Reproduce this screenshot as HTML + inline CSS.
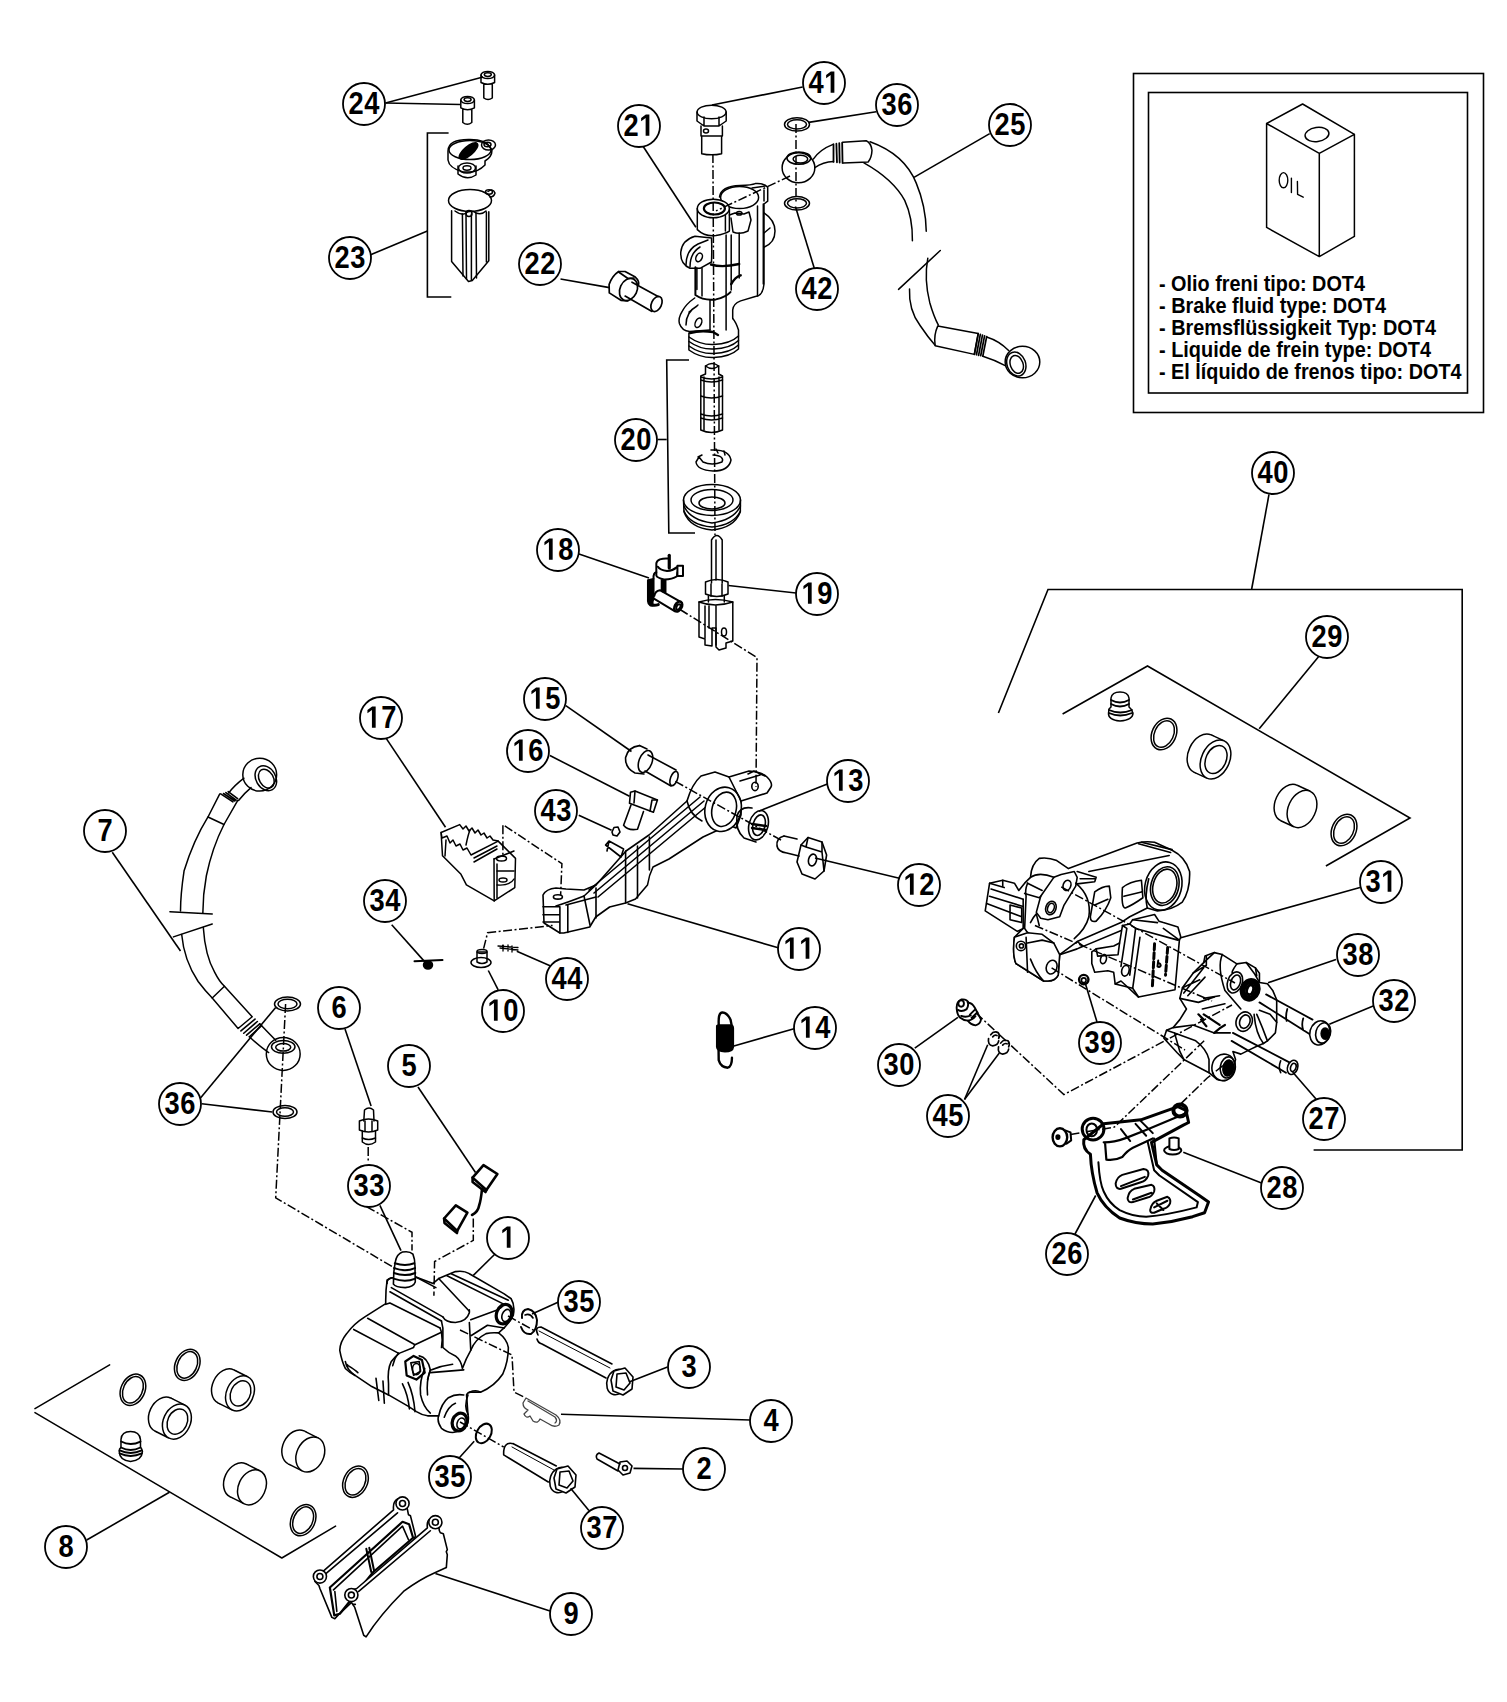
<!DOCTYPE html>
<html><head><meta charset="utf-8"><style>
html,body{margin:0;padding:0;background:#fff;}
body{width:1507px;height:1702px;overflow:hidden;}
svg{display:block;}
.c{fill:#fff;stroke:#000;stroke-width:1.8;}
.t{font-family:"Liberation Sans",sans-serif;font-weight:bold;font-size:31px;text-anchor:middle;fill:#000;}
.l{fill:none;stroke:#000;stroke-width:1.6;}
.p{fill:none;stroke:#000;stroke-width:1.5;stroke-linejoin:round;stroke-linecap:round;}
.pf{fill:#fff;stroke:#000;stroke-width:1.5;stroke-linejoin:round;}
.d{fill:none;stroke:#000;stroke-width:1.5;stroke-dasharray:9 2.5 2 2.5;}
.z path,.z ellipse,.z circle,.z polyline,.z line{vector-effect:non-scaling-stroke;}
.bx{fill:none;stroke:#000;stroke-width:1.6;}
.it{font-family:"Liberation Sans",sans-serif;font-weight:bold;font-size:21.5px;fill:#000;}
</style></head><body>
<svg width="1507" height="1702" viewBox="0 0 1507 1702">
<g id="box">
<rect x="1133.5" y="73.5" width="350" height="339" class="bx"/>
<rect x="1148.5" y="92.5" width="319" height="300.5" class="bx"/>
<path d="M1302.6,104 L1266.6,123.5 L1266.6,227.4 L1319.3,256.6 L1354.4,236.4 L1354.4,134.3 Z M1266.6,123.5 L1319.3,153.4 L1354.4,134.3 M1319.3,153.4 L1319.3,256.6" class="p"/>
<ellipse cx="1317" cy="134.5" rx="12" ry="7" transform="rotate(-8 1317 134.5)" class="p"/>
<ellipse cx="1283.5" cy="180.2" rx="4.3" ry="7.6" class="p" style="stroke-width:1.4"/><path d="M1291.4,178.1 L1291.4,192.5 M1297.4,181.4 L1297.6,194.4 L1303.2,197.2" class="p" style="stroke-width:1.4"/>
<text x="1159" y="291" class="it" textLength="206" lengthAdjust="spacingAndGlyphs">- Olio freni tipo: DOT4</text>
<text x="1159" y="313" class="it" textLength="227" lengthAdjust="spacingAndGlyphs">- Brake fluid type: DOT4</text>
<text x="1159" y="334.7" class="it" textLength="277" lengthAdjust="spacingAndGlyphs">- Bremsflüssigkeit Typ: DOT4</text>
<text x="1159" y="356.5" class="it" textLength="272" lengthAdjust="spacingAndGlyphs">- Liquide de frein type: DOT4</text>
<text x="1159" y="378.5" class="it" textLength="302.5" lengthAdjust="spacingAndGlyphs">- El líquido de frenos tipo: DOT4</text>
</g>
<!-- ===== TOP LEFT: screws 24 ===== -->
<g class="p">
<path d="M481,75 L481,82.5 Q487.8,86 494.6,82.5 L494.6,75 M483.8,84 L483.8,98 Q488,101 492.3,98 L492.3,84"/>
<ellipse cx="487.8" cy="75" rx="6.8" ry="3.6"/>
<ellipse cx="487.8" cy="74.6" rx="3.5" ry="1.8"/>
<path d="M460.8,100 L460.8,107.8 Q467.6,111.5 474.4,107.8 L474.4,100 M462.8,109 L462.8,122.5 Q467.3,126 471.8,122.5 L471.8,109"/>
<ellipse cx="467.6" cy="100" rx="6.8" ry="3.6"/>
<ellipse cx="467.6" cy="99.6" rx="3.5" ry="1.8"/>
</g>
<!-- reservoir cap -->
<g class="p">
<path d="M448,151 Q448,139 470,139.5 Q486,140 489,146 L492,150 Q492,157 485,161 L485,165 Q478,172 470,172 L463,172 Q449,168 448,160 Z"/>
<ellipse cx="470" cy="150" rx="21" ry="9.5"/>
<ellipse cx="468.5" cy="151" rx="11.5" ry="4.5" transform="rotate(-40 468.5 151)" fill="#000"/>
<ellipse cx="488.5" cy="145" rx="7" ry="5"/>
<ellipse cx="487.5" cy="144.5" rx="3.5" ry="2.3"/>
<path d="M458,166 L458,174 Q467,181 476,175 L476,166"/>
<ellipse cx="467" cy="168" rx="8.5" ry="5"/>
<ellipse cx="467" cy="168" rx="4" ry="2.2"/>
</g>
<!-- reservoir body -->
<g class="p">
<ellipse cx="470" cy="200.5" rx="21.5" ry="11"/>
<path d="M488,191.5 Q493,188 495,193 Q494,197 490,197"/>
<ellipse cx="489" cy="192" rx="3.5" ry="2.2"/>
<path d="M451.6,210.8 L451.6,261.6 L468.5,281.4 L472.3,280.4 L488.8,260.7 L488.8,211.8"/>
<path d="M462.4,214 L463,276 M466,213 L466.5,279 M471.4,214 L471.4,280 M476,213 L476.5,278 M486.4,212 L486.4,262"/>
<path d="M455,211 Q462,216 466,213 Q471,209 476,213 Q482,215 486,211"/>
<circle cx="469" cy="213.5" r="3"/>
</g>
<!-- bolt 22 -->
<g class="p" style="stroke-width:1.7">
<path d="M618.6,271.5 L625.1,271.5 L635.3,277.1 Q639.5,281 638.5,285 M618.6,271.5 Q612,276 609.1,284.5 L609.3,292.9 L620.9,300.3 L627.9,300.8"/>
<path d="M618.6,272 L628,278.5 L634,278"/>
<ellipse cx="628.5" cy="289.5" rx="8.5" ry="11.5" transform="rotate(25 628.5 289.5)"/>
<path d="M632,282.2 L658.1,296.6 M625.1,296.1 L652,311.4"/>
<ellipse cx="656.5" cy="304" rx="5" ry="8" transform="rotate(25 656.5 304)"/>
</g>
<!-- banjo bolt 41 -->
<g class="p">
<ellipse cx="711.6" cy="112" rx="14.5" ry="6.8"/>
<path d="M697,112 L697,121 L704,126 L719,126 L726.2,121 L726.2,112 M704,117 L704,126 M719,117 L719,126"/>
<path d="M701,126 L701,136 L722.4,136 L722.4,126"/>
<path d="M701.7,136.5 L701.7,153.7 Q711.6,156 721.6,153.7 L721.6,136.5"/>
<ellipse cx="706" cy="131" rx="2.5" ry="2"/>
</g>
<!-- washers 36/42 top -->
<g class="p">
<ellipse cx="797" cy="124.4" rx="12.5" ry="6.7"/>
<ellipse cx="797" cy="124.4" rx="9.5" ry="4.6"/>
<ellipse cx="797" cy="203.3" rx="12.5" ry="6.7"/>
<ellipse cx="797" cy="203.3" rx="9.5" ry="4.6"/>
</g>
<!-- master cylinder 21 -->
<g class="p">
<path d="M719.5,197 Q721,186 740,185.5 Q752,185 755.3,183.6 Q764,183 767.7,187.3 L767.7,201.2 L764,204 L764,284 Q763,296 755.3,296.5 L740.7,300.9 Q733,304 732.7,310 L732.7,318.4"/>
<ellipse cx="739.6" cy="197.5" rx="19" ry="11"/>
<path d="M752,188 L765,186 M764,190 L764,201"/>
<path d="M697.3,208.5 L697.3,229.6 Q705,237 715.9,235.5 Q725,234 729.4,231.1 L729.4,208.5"/>
<ellipse cx="713.3" cy="208.5" rx="16" ry="9.3" fill="#fff"/>
<ellipse cx="714.4" cy="208.5" rx="10.5" ry="6" style="stroke-width:2.2"/>
<path d="M725.4,215 L725.4,231 M729.4,215 L735,213 L744,214 L749,212 L751,220 L748,231 Q740,235 733,232 L731,218"/>
<ellipse cx="739.2" cy="213.2" rx="2.8" ry="1.8"/>
<path d="M680.8,252 Q682,240 695,236.2 L711.5,238 Q712,250 711.5,262 L700,268.3 L690,268.3 Q680,264 680.8,252 Z"/>
<path d="M686,265 Q686,250 698,244 L708,240 M690,267 Q690,253 700,247"/>
<ellipse cx="699.1" cy="257.4" rx="3" ry="4.5" transform="rotate(25 699.1 257.4)"/>
<path d="M696.9,268 L696.9,289.5 M702,268 L702,296 M726.1,235 L726.1,330 M731.2,235 L731.2,290 M739.2,233 L739.2,278 M757.5,206 L757.5,296 M763.3,204 L763.3,284"/>
<path d="M711,264.5 Q722,268 739.2,264" style="stroke-width:2.4"/>
<path d="M764,212.8 Q775,220 775,231.1 Q775,243 764,247.2 M764,233 L770,228"/>
<path d="M695.4,267.3 L695.4,295 Q704,301 715.9,299.4 Q726,297 730.5,292.1" style="stroke-width:2"/>
<path d="M731.2,284.1 Q735,277 740.7,275.3" style="stroke-width:2.4"/>
<path d="M694.7,298 Q686,304 682.3,311.1 Q678,318 679.4,323.5 Q682,331 689.6,331.5 L710,330"/>
<path d="M689,312 L698,305 M686,325 Q686,312 697,306"/>
<ellipse cx="698.4" cy="322.8" rx="3" ry="5" transform="rotate(25 698.4 322.8)"/>
<path d="M710,300 L710,330"/>
<path d="M688.9,333 L688.9,350 Q700,358 713.7,357.5 Q730,357 738.5,349 L738.5,330 Q736,322 732.7,318.4"/>
<path d="M689,337 Q700,345 713.7,344.5 Q730,344 738.5,336 M689,341.5 Q700,349.5 713.7,349 Q730,348.5 738.5,340.5 M689,346 Q700,354 713.7,353.5 Q730,353 738.5,345"/>
<path d="M690,333 Q700,330 713,332 L718,335" style="stroke-width:2.4"/>
</g>
<!-- hose 25 -->
<g class="p z" transform="translate(770,110) scale(0.19243)" style="stroke-width:1.5">
<ellipse cx="148" cy="300" rx="85" ry="78"/>
<ellipse cx="150" cy="250" rx="62" ry="32"/>
<ellipse cx="158" cy="255" rx="38" ry="20"/>
<path d="M225,255 Q260,205 325,180 M233,300 Q275,270 330,268"/>
<path d="M330,178 L330,270 M345,175 L348,272 M360,172 L362,273 M375,170 L377,275" style="stroke-width:1.8"/>
<path d="M378,168 L500,160 Q525,170 530,210 Q528,250 510,270 L380,276"/>
<path d="M520,165 Q700,230 760,380 Q810,500 812,630"/>
<path d="M488,275 Q640,360 700,470 Q742,560 740,680"/>
<path d="M668,932 L885,730"/>
<path d="M725,930 Q720,1040 780,1120 Q820,1180 858,1222"/>
<path d="M820,770 Q800,880 830,1000 Q850,1070 875,1118"/>
<path d="M872,1122 Q850,1170 858,1222 M872,1122 L1082,1162 L1062,1270 L858,1225"/>
<path d="M1082,1162 L1062,1270 M1093,1166 L1073,1272 M1104,1170 L1084,1275 M1115,1174 L1095,1277 M1126,1178 L1106,1279" style="stroke-width:1.7"/>
<path d="M1126,1180 Q1190,1200 1240,1250 M1106,1280 Q1170,1300 1225,1330"/>
<ellipse cx="1312" cy="1310" rx="90" ry="82"/>
<ellipse cx="1280" cy="1320" rx="48" ry="64" transform="rotate(-20 1280 1320)"/>
<ellipse cx="1282" cy="1322" rx="33" ry="48" transform="rotate(-20 1282 1322)"/>
</g>
<!-- ===== piston assembly 20 ===== -->
<g class="p">
<path d="M705.5,366 Q712,361 718.7,366 L718.7,374 L722.5,376 L722.5,430 Q711.6,435 700.8,430 L700.8,376 L705.5,374 Z"/>
<path d="M705.5,366 Q712,371 718.7,366 M700.8,377 Q711.6,381 722.5,377 M700.8,380 Q711.6,384 722.5,380 M700.8,396 Q711.6,400 722.5,396 M700.8,414 Q711.6,418 722.5,414 M700.8,418 Q711.6,422 722.5,418 M704,377 L704,430 M719,377 L719,430"/>
<path d="M711,450 Q729,449 731,460 Q729,471 713,471 Q697,470 696,462 L699,457 L703,462 Q712,466 722,462 Q725,456 713,455"/>
<path d="M698,457 L702,455 M716,449 L718,453 M724,451 L725,455"/>
<ellipse cx="712" cy="500" rx="28.5" ry="15.5"/>
<ellipse cx="712" cy="500" rx="21" ry="10.5"/>
<ellipse cx="712" cy="503" rx="13" ry="6"/>
<path d="M683.5,500 L684,512 Q690,528 712,530 Q734,528 740.3,512 L740.5,500"/>
<path d="M684,506 Q690,520 712,523 Q734,520 740.4,506 M684,511 Q690,525 712,527 Q734,525 740.4,511"/>
</g>
<!-- push rod 19 -->
<g class="p">
<path d="M711.5,583 L711.5,540 Q716.8,531 722.2,540 L722.2,583"/>
<path d="M716,540 L716,580"/>
<path d="M705.5,582 Q716.8,577 728,582 L728,594 Q716.8,599 705.5,594 Z"/>
<path d="M711,584 L711,596 M722,584 L722,596"/>
<path d="M708.4,596 L708.4,602 M724.3,596 L724.3,602"/>
<path d="M699,602 Q715,597 732.8,602 L732.8,641 L726,643 L726,648 L719,650 L716,647 L716,628 L712,628 L712,646 L705,645 L705,639 L699,637 Z"/>
<path d="M699,602 Q715,608 732.8,602 M716,606 L716,645 M705,606 L705,638 M709,606 L709,628"/>
<ellipse cx="724" cy="632" rx="2.5" ry="4"/>
</g>
<!-- clip 18 -->
<g class="p z" transform="translate(640,550) scale(0.03981)" style="stroke-width:2">
<path d="M705,215 Q600,205 500,235 Q410,280 410,340 L410,640 Q430,700 600,740 Q800,745 930,660 L940,560"/>
<path d="M450,420 Q500,500 680,530 Q820,520 930,430"/>
<path d="M940,395 L1080,395 L1080,650 L940,650 Z" fill="#fff"/>
<path d="M735,135 L735,450" style="stroke-width:3.2"/>
<path d="M200,760 L340,730 L340,1220 Q300,1300 320,1390 L260,1390 Q200,1350 200,1290 Z" fill="#000"/>
<path d="M340,720 Q330,580 410,560"/>
<path d="M545,760 L640,760 L640,1060 L545,1030 Z" fill="#000"/>
<path d="M360,1150 Q380,1030 500,1010 L1000,1290 M360,1230 L880,1540"/>
<path d="M280,1380 Q380,1400 460,1370" style="stroke-width:3"/>
<ellipse cx="960" cy="1420" rx="85" ry="135" transform="rotate(30 960 1420)" fill="#fff" style="stroke-width:2.6"/>
<ellipse cx="965" cy="1430" rx="45" ry="75" transform="rotate(30 965 1430)"/>
</g>
<!-- ===== lever 11 ===== -->
<g class="p" style="stroke-width:1.6">
<path d="M543,895 Q546,889 556,888 L566,889 L584,890 L596,885 L626,851 L649,835 L687,801 Q692,784 701,776 L715,772 L729,777 L749,771 Q762,772 767,777 Q773,783 771,787 L767,793 L741,801 L741,815 L736,828 L729,825 L703,837 L669,859 L653,867 Q649,875 647.5,885 L635.5,899 L625.6,903 L609.6,907 L595.7,917 L589.7,927 L563.8,933 L559.9,933 L544,923 Z" fill="#fff"/>
<path d="M559.9,906.8 L559.9,933 M567.8,905 L567.8,932.5 M543,906.8 L559.9,906.8 M543,914.8 L559.9,914.8 M543,922 L559.9,922"/>
<path d="M556,906 Q566,903 584,896 L596,885 M566,905 L596,897"/>
<path d="M584,896 L590,925 M596,888 L596,918 M625.6,851 L625.6,903 M637.5,846 L637.5,898 M649.4,837 L649.4,870"/>
<path d="M589,890 L700,797 M594,893 L704,801 M598,897 L707,806"/>
<path d="M687,801 Q690,815 702,821"/>
<ellipse cx="723.1" cy="809.3" rx="18" ry="22.4" transform="rotate(15 723.1 809.3)" fill="#fff"/>
<ellipse cx="724.1" cy="809.3" rx="12" ry="17.5" transform="rotate(15 724.1 809.3)"/>
<path d="M729,777 L741,801 M748,774 L754,771 L765,776 M740,781 L760,775" />
<ellipse cx="755" cy="786.4" rx="3.2" ry="4.2"/>
<ellipse cx="557.9" cy="896.9" rx="4.5" ry="2.2"/>
</g>
<!-- bolt 15 -->
<g class="p" style="stroke-width:1.6">
<path d="M639.5,745.6 Q628,747 625.6,757.5 Q625,768 635,773 L644,774"/>
<path d="M639.5,745.6 L647,749"/>
<ellipse cx="645.5" cy="761.5" rx="6.5" ry="11.5" transform="rotate(20 645.5 761.5)" fill="#fff"/>
<path d="M648,755 L676,770 M645,771 L671,786"/>
<ellipse cx="674" cy="778.5" rx="3.5" ry="7.5" transform="rotate(20 674 778.5)"/>
</g>
<!-- bolt 16 / pin 43 -->
<g class="p" style="stroke-width:1.6">
<path d="M630.5,792.3 L635,791 L657.4,800 L653.4,812.2 L629.5,803.3 Z"/>
<path d="M635,791 L634,803 M652,800 L650,811 M657.4,800 L652,800"/>
<path d="M631,805 L623.6,825.2 Q628,831 637.5,829.2 L643.5,811.5"/>
<path d="M612,832 L614,827.5 L618,827 L620,832 L617,836 L613,835 Z"/>
<path d="M605.6,845 L609,841 L623.6,849 L621,857 Z M609,841 L607,851"/>
</g>
<!-- bushing 13 -->
<g class="p" style="stroke-width:1.6">
<path d="M752,808 Q740,806 737,816 Q735,830 744,838 L756,842"/>
<ellipse cx="758.5" cy="825.2" rx="9.5" ry="15" transform="rotate(15 758.5 825.2)" fill="#fff"/>
<ellipse cx="759" cy="825.2" rx="6" ry="10.5" transform="rotate(15 759 825.2)"/>
<path d="M752,824 L766,826 M752,828 L766,830" style="stroke-width:2.4"/>
</g>
<!-- nut 12 -->
<g class="p" style="stroke-width:1.6">
<path d="M784,836 Q776,838 777,846 Q778,852 786.8,853 L799,856"/>
<path d="M784,836 L797,839"/>
<path d="M801,845 L808,837.5 L822,842 L826.6,855 L824,871 L815,879 L802,874 L797,862 Z"/>
<path d="M808,837.5 L806,847 L801,845 M806,847 L822,852 L822,842 M822,852 L824,871"/>
<ellipse cx="812.5" cy="860" rx="4" ry="6" transform="rotate(15 812.5 860)"/>
</g>
<!-- spring 14 -->
<g class="p z" transform="translate(700,1000) scale(0.047)" style="stroke-width:2.4">
<path d="M400,540 Q380,260 480,265 Q580,270 650,420 L675,545"/>
<path d="M365,560 Q360,540 420,540 L660,540 Q700,545 700,600 L700,1000 Q690,1090 530,1090 Q370,1090 365,1000 Z" fill="#000"/>
<path d="M395,1060 L398,1280 Q440,1430 590,1440 Q680,1420 680,1230"/>
</g>
<!-- pedal tip 17 -->
<g class="p">
<path d="M441.1,832.5 L459.7,824.6 L463,829 L466,826 L469,831 L472,828 L475,833 L478,830 L481,835 L484,833 L487,838 L490,836 L493,840 L498.2,841.1 L515.5,858.4 L514.8,887.6 L494.2,900.9 L466.4,884.9 L461,874.3 L442.5,855.7 Z"/>
<path d="M441.1,832.5 L442,838 L447,836 L450,843 L453,840 L456,846 L460,844 L463,850 L467,848 L471,855 L498.2,841.1"/>
<path d="M446,840 L445,856 M466,845 Q468,835 470,830 M494,859 L514,851 M474,858 L497,846 M474,862 L497,849"/>
<path d="M494,859 L494.2,900.9 M497,864 L497,898"/>
<path d="M497,871 L514,871 M497,885 Q510,886 514,879"/>
<ellipse cx="501.5" cy="858.5" rx="5" ry="2.5"/>
<ellipse cx="503" cy="880" rx="4" ry="2"/>
</g>
<!-- small parts 34, 10, 44, spring 14 -->
<g class="p">
<path d="M414.5,961.2 L442.5,960" style="stroke-width:2"/>
<ellipse cx="428" cy="965" rx="4.5" ry="4" fill="#000"/>
<ellipse cx="481" cy="962.5" rx="10" ry="5"/>
<path d="M477,952 L477,962 Q482,965 487,962 L487,952 Z"/>
<ellipse cx="482" cy="951.5" rx="5" ry="2"/>
<path d="M498,946 L518,947.5 M500,948 L518,950 M503,945 L503,951 M508,945 L508,951 M512,946 L512,952" style="stroke-width:1.3"/>

</g>
<!-- ===== hose 7 ===== -->
<g class="p z" transform="translate(90,730) scale(0.23507)" style="stroke-width:1.5">
<ellipse cx="722" cy="190" rx="72" ry="70"/>
<ellipse cx="748" cy="205" rx="42" ry="56" transform="rotate(-30 748 205)"/>
<ellipse cx="750" cy="207" rx="30" ry="43" transform="rotate(-30 750 207)"/>
<path d="M655,205 Q615,235 590,268 M685,245 Q655,270 632,300"/>
<path d="M588,262 L628,292 M578,266 L622,298 M568,270 L616,302 M556,272 L608,306" style="stroke-width:1.6"/>
<path d="M552,272 L502,370 L570,402 L628,300"/>
<path d="M502,370 Q440,470 400,600 Q385,700 385,770"/>
<path d="M570,402 Q520,500 495,620 Q480,700 480,780"/>
<path d="M340,773 L520,783 M355,880 L520,825"/>
<path d="M390,870 Q400,980 460,1070 Q490,1110 520,1140"/>
<path d="M482,840 Q490,960 530,1030 Q550,1070 572,1090"/>
<path d="M520,1140 L572,1090 L690,1220 L630,1270 Z"/>
<path d="M642,1280 L702,1230 M654,1290 L712,1240 M666,1298 L722,1250 M678,1305 L730,1258" style="stroke-width:1.6"/>
<path d="M722,1250 Q760,1290 790,1320 M678,1305 Q720,1345 760,1372"/>
<ellipse cx="822" cy="1378" rx="72" ry="70"/>
<ellipse cx="822" cy="1348" rx="50" ry="27"/>
<ellipse cx="822" cy="1350" rx="32" ry="16"/>
</g>
<!-- washers 36 left -->
<g class="p">
<ellipse cx="287.5" cy="1004" rx="13" ry="7"/>
<ellipse cx="287.5" cy="1004" rx="9.5" ry="4.8"/>
<ellipse cx="285" cy="1112" rx="12" ry="6.5"/>
<ellipse cx="285" cy="1112" rx="8.5" ry="4.3"/>
</g>
<!-- bleed valve 6 -->
<g class="p">
<path d="M363.8,1121 L364.5,1110 Q369,1106 373.5,1110 L374,1121"/>
<path d="M359.4,1121 Q368.5,1117 377.7,1121 L377.7,1130 Q368.5,1134 359.4,1130 Z"/>
<path d="M365,1121 L365,1131 M372,1121 L372,1131"/>
<path d="M362.3,1131 L362.3,1142 Q368.5,1147 375.5,1142 L375.5,1131"/>
<path d="M362.3,1138 Q368.5,1141 375.5,1138"/>
</g>
<!-- sensor 5 -->
<g class="p" style="stroke-width:2.6">
<path d="M472.6,1177.6 L483.5,1165.2 L497.4,1174 L486.4,1190 Z"/>
<path d="M472.6,1177.6 L472.6,1182 L485.5,1192 L486.4,1190"/>
<path d="M482,1189 Q481,1200 479,1206 Q478,1212 472,1215"/>
<path d="M444.1,1218.5 L455.8,1205.3 L467.4,1212.6 L457.2,1230.9 Z"/>
<path d="M444.1,1218.5 L444.5,1223 L457,1233 L457.2,1230.9"/>
</g>
<!-- ===== caliper 1 ===== -->
<g class="p z" transform="translate(330,1250) scale(0.13935)" style="stroke-width:1.6">
<path fill="#fff" d="M410,215 Q398,300 400,385 L250,480 Q170,530 120,600 Q72,660 70,720 Q85,800 110,850 Q140,880 180,900 L300,980 L420,1040 L560,1120 L620,1160 Q660,1185 700,1190 L780,1190 Q765,1230 800,1280 Q840,1310 880,1310 Q940,1305 980,1260 Q1000,1230 990,1180 L980,1040 Q990,1020 1010,1020 L1080,1020 Q1180,980 1240,890 Q1280,800 1280,700 Q1270,640 1210,595 Q1280,540 1315,470 Q1330,400 1300,350 L1250,315 L1000,170 Q960,145 900,155 L780,205 L740,240 L620,195 Q600,190 560,200 L440,200 Z"/>
<path fill="#fff" d="M455,245 L458,160 Q462,120 470,80 Q480,30 520,15 Q570,5 595,30 Q612,70 610,130 L612,230 Q600,265 540,270 Q470,268 455,245 Z"/>
<path d="M465,95 Q540,120 605,95 M460,130 Q540,160 610,130 M458,165 Q540,195 612,165 M456,205 Q540,235 612,205" style="stroke-width:2"/>
<path d="M440,200 Q405,210 410,240 M440,270 L810,480 M430,300 L800,510 M430,380 L790,560 M400,390 L430,380"/>
<path d="M620,195 L760,270 M780,205 L1000,440 M840,185 L1250,390 M870,170 L1280,360 M1250,390 Q1230,420 1200,430 L1010,500"/>
<path d="M810,480 Q830,520 900,520 Q980,515 1000,450 L1000,430 M800,510 L810,560 L810,700 Q850,740 900,760 Q940,790 950,850 Q975,780 1010,720 L1000,520"/>
<path d="M1010,720 Q1040,640 1120,600 Q1160,590 1210,595 M1020,610 L1130,540 L1250,560"/>
<path d="M270,490 L610,680 M170,570 L490,740 M790,560 L800,590 L610,680 Q600,690 600,700 L500,740 Q470,760 440,800 Q410,860 420,960 L420,1040"/>
<path d="M800,590 Q810,650 800,700 M490,740 Q460,780 450,830"/>
<path d="M110,800 Q120,860 180,900 M120,820 L130,830 Q180,860 200,880 M330,920 Q340,1000 350,1080 M380,940 L390,1100 M520,960 Q560,1040 570,1140 M560,950 Q600,1040 610,1160"/>
<path d="M680,850 Q640,940 650,1040 Q670,1130 720,1170 M720,860 Q690,940 700,1040"/>
<path d="M720,880 L960,860 M730,860 Q800,830 880,820"/>
<path d="M540,800 L600,760 L660,790 L680,880 L620,930 L550,900 Z" style="stroke-width:2.2"/>
<path d="M580,810 L640,800 L650,870 L600,900 Z"/>
<ellipse cx="620" cy="855" rx="28" ry="40"/>
<path d="M640,760 Q700,770 720,860 L700,930"/>
<path d="M990,1180 Q960,1120 990,1040 M1000,1020 Q1050,1000 1080,1020"/>
<ellipse cx="1250" cy="460" rx="55" ry="72" transform="rotate(20 1250 460)" style="stroke-width:3.2"/>
<ellipse cx="1265" cy="470" rx="30" ry="45" transform="rotate(20 1265 470)" style="stroke-width:1.6"/>
<ellipse cx="930" cy="1235" rx="52" ry="65" transform="rotate(20 930 1235)" style="stroke-width:3.2"/>
<ellipse cx="940" cy="1245" rx="28" ry="40" transform="rotate(20 940 1245)" style="stroke-width:1.6"/>
<path d="M780,1190 Q800,1100 850,1060 Q900,1030 960,1040 M820,1200 Q850,1120 900,1100"/>
</g>
<!-- washers 35, pins 3 / 37, bolt 2, clip 4 -->
<g class="p" style="stroke-width:1.6">
<path d="M522,1318 Q521,1310 528,1309 Q536,1311 537,1320 Q537,1330 531,1334 Q524,1335 521,1327" style="stroke-width:2"/>
<path d="M525,1315 Q530,1313 533,1318"/>
<path d="M538,1335 Q534,1327 541,1327 L612,1364 M537,1339 Q538,1343 542,1344 L606,1378"/>
<path d="M539,1331 L610,1368" style="stroke-width:1"/>
<ellipse cx="617" cy="1382" rx="10" ry="13" transform="rotate(20 617 1382)" fill="#fff"/>
<path d="M614,1371 L625,1368 L633,1377 L632,1389 L623,1395 L613,1391 L611,1380 Z" fill="#fff"/>
<path d="M617,1374 L626,1373 L630,1383 L624,1390 L616,1387 Z"/>
<ellipse cx="483.8" cy="1433.4" rx="7" ry="10.5" transform="rotate(30 483.8 1433.4)" style="stroke-width:2"/>
<path d="M513.3,1443.7 L556.3,1466 M503.7,1454.9 L548.3,1482 M513.3,1443.7 Q503,1441 503.7,1454.9"/>
<path d="M512,1447 L554,1470" style="stroke-width:1"/>
<ellipse cx="560" cy="1480" rx="10" ry="13" transform="rotate(20 560 1480)" fill="#fff"/>
<path d="M557,1469 L568,1466 L576,1475 L575,1487 L566,1493 L556,1489 L554,1478 Z" fill="#fff"/>
<path d="M560,1472 L569,1471 L573,1481 L567,1488 L559,1485 Z"/>
<path d="M599,1453 L620,1464 M597,1459 L618,1471 M599,1453 Q595,1455 597,1459"/>
<path d="M620,1462 L627,1461 L632,1466 L630,1473 L623,1475 L618,1470 Z"/>
<circle cx="625" cy="1468" r="2.5"/>
</g>
<g class="p" style="stroke-width:1.3;stroke:#444">
<path d="M526,1398 L556,1415 Q562,1420 559,1425 Q554,1428 549,1424 L540,1419 Q538,1424 533,1421 L530,1416 Q526,1419 524,1414 L528,1410 Q523,1408 523,1403 Z"/>
<path d="M528,1401 L555,1417 Q558,1421 555,1423"/>
</g>
<!-- ===== piston kit 8 ===== -->
<g class="p z" transform="translate(30,1340) scale(0.19907)" style="stroke-width:1.5">
<path d="M400,125 L25,345 M25,365 L1265,1095 L1535,935"/>
<ellipse cx="517" cy="250" rx="60" ry="82" transform="rotate(25 517 250)"/>
<ellipse cx="517" cy="250" rx="48" ry="70" transform="rotate(25 517 250)"/>
<ellipse cx="790" cy="125" rx="60" ry="82" transform="rotate(25 790 125)"/>
<ellipse cx="790" cy="125" rx="48" ry="70" transform="rotate(25 790 125)"/>
<ellipse cx="1372" cy="905" rx="60" ry="82" transform="rotate(25 1372 905)"/>
<ellipse cx="1372" cy="905" rx="48" ry="70" transform="rotate(25 1372 905)"/>
<ellipse cx="1635" cy="712" rx="60" ry="82" transform="rotate(25 1635 712)"/>
<ellipse cx="1635" cy="712" rx="48" ry="70" transform="rotate(25 1635 712)"/>
<path d="M448,560 Q450,605 505,610 Q562,605 565,560 L560,545 L555,540 L555,500 Q550,460 505,460 Q460,460 457,500 L457,540 L450,548 Z" fill="#fff"/>
<path d="M458,510 Q505,535 555,510 M457,540 Q505,565 555,540 M450,555 Q505,580 562,555 M450,570 Q505,595 562,570" style="stroke-width:1.9"/>
</g>
<!-- ===== pads 9 ===== -->
<g class="p z" transform="translate(300,1480) scale(0.19907)" style="stroke-width:1.6">
<path fill="#fff" d="M470,150 L120,455 Q70,470 75,510 L95,530 L100,545 L160,690 L175,697 L190,680 L560,330 L580,280 L555,180 L545,175 L540,150 Q530,90 490,95 Q465,110 470,150 Z"/>
<path d="M490,165 L130,470"/>
<path d="M150,540 L515,210 L548,222 L568,290 L368,462 L200,672 L172,680 Z" style="stroke-width:2.2"/>
<path d="M168,552 L515,232 L545,300 M185,660 L175,560"/>
<path d="M333,345 L358,462 M348,340 L372,455" style="stroke-width:2"/>
<circle cx="515" cy="118" r="33" fill="#fff"/>
<circle cx="515" cy="118" r="15"/>
<circle cx="100" cy="485" r="33" fill="#fff"/>
<circle cx="100" cy="485" r="15"/>
<path fill="#fff" d="M640,240 L285,545 Q235,555 232,595 L255,610 L265,625 L275,640 L320,780 L332,788 Q400,680 520,560 Q600,500 680,465 L735,440 L740,375 L735,360 L740,350 L720,270 L705,265 L700,255 Q695,190 655,195 Q635,205 640,240 Z"/>
<path d="M655,255 L295,560 M265,625 L278,625"/>
<circle cx="680" cy="212" r="33" fill="#fff"/>
<circle cx="680" cy="212" r="15"/>
<circle cx="258" cy="578" r="33" fill="#fff"/>
<circle cx="258" cy="578" r="15"/>
</g>
<!-- ===== kit 29 ===== -->
<g class="p">
<path d="M1108.5,713 Q1108,720 1120,721 Q1133,720 1133,713 L1131,709 L1129,707 L1129,698 Q1128,692 1120,692 Q1112,692 1111,698 L1111,707 L1109,709 Z"/>
<path d="M1111,700 Q1120,705 1129,700 M1111,704 Q1120,709 1129,704 M1109,710 Q1120,715 1132,710 M1109,713 Q1120,718 1132,713" style="stroke-width:1.8"/>
<ellipse cx="1164" cy="734" rx="12" ry="16.5" transform="rotate(25 1164 734)"/>
<ellipse cx="1164" cy="734" rx="9.5" ry="14" transform="rotate(25 1164 734)"/>
<ellipse cx="1344" cy="830" rx="12" ry="16.5" transform="rotate(25 1344 830)"/>
<ellipse cx="1344" cy="830" rx="9.5" ry="14" transform="rotate(25 1344 830)"/>
</g>
<!-- ===== rear caliper 40 ===== -->
<g class="p z" transform="translate(975,835) scale(0.14599)" style="stroke-width:1.6">
<path fill="#fff" d="M640,230 L1110,55 Q1170,40 1230,50 L1350,105 Q1440,150 1470,250 Q1475,380 1420,460 Q1350,515 1250,520 L1180,500 L1060,560 L1000,600 L700,730 L580,820 L570,960 Q550,1000 500,1000 L470,1000 L280,880 Q255,820 270,700 L330,640 L290,660 L70,520 L100,330 L190,310 L270,330 L300,380 L340,330 L380,290 Q385,200 440,160 Q500,150 560,175 Z"/>
<path d="M1120,60 L1340,120 M1140,50 L1350,100 M780,250 L1330,140 M1180,500 Q1160,420 1190,300"/>
<ellipse cx="1290" cy="350" rx="125" ry="168" transform="rotate(15 1290 350)"/>
<ellipse cx="1300" cy="350" rx="95" ry="135" transform="rotate(15 1300 350)"/>
<ellipse cx="1300" cy="350" rx="80" ry="118" transform="rotate(15 1300 350)"/>
<path d="M1010,360 Q1060,320 1140,310 L1150,430 Q1080,480 1030,500 Q1000,500 1010,360 Z M1020,420 L1140,390"/>
<path d="M820,390 Q870,350 920,350 L930,430 Q900,520 830,590 Q790,600 790,560 Z M820,480 L910,440"/>
<path fill="#fff" d="M540,290 L590,270 L680,250 L700,290 L690,350 L610,480 L580,560 L500,580 L450,570 L420,530 L450,420 Z"/>
<ellipse cx="630" cy="345" rx="26" ry="36" transform="rotate(20 630 345)"/>
<ellipse cx="520" cy="500" rx="35" ry="47" transform="rotate(20 520 500)"/>
<ellipse cx="520" cy="500" rx="22" ry="33" transform="rotate(20 520 500)"/>
<path d="M700,250 L830,290 L820,320 L700,335 M720,300 L825,300"/>
<path d="M690,330 Q800,420 780,560 Q760,640 680,710"/>
<path d="M380,290 Q440,250 540,290 M360,330 L460,380 M340,400 L440,430 L450,420"/>
<path d="M110,370 L330,440 M100,420 L330,490 M80,470 L320,560 M240,480 L320,500 L320,600 L240,580 Z M190,310 L190,350 M100,330 L200,360"/>
<path d="M330,440 L330,640 M360,330 Q340,380 350,420 L340,640 Q360,680 420,700"/>
<path d="M380,600 Q400,560 420,540 L440,620" />
<path fill="#fff" d="M270,700 L360,670 L460,680 L540,740 L580,820 L570,960 Q550,1000 500,1000 L470,1000 L280,880 Q255,820 270,700 Z"/>
<circle cx="315" cy="760" r="32"/>
<circle cx="318" cy="760" r="14"/>
<path d="M350,700 L360,940 M360,740 L460,720 L540,740 M380,850 Q420,950 470,1000"/>
<ellipse cx="525" cy="905" rx="36" ry="48" transform="rotate(20 525 905)"/>
<path d="M580,820 L700,780 L1010,650 M700,730 L740,760 L700,780"/>
<path fill="#fff" d="M800,800 L830,780 L950,760 L990,740 L1010,620 L1060,610 L1080,580 L1230,545 L1260,590 L1290,600 L1390,630 L1410,700 L1400,720 L1370,1060 L1120,1110 L1080,1050 L960,1020 L950,940 L910,930 L820,940 L800,880 Z"/>
<path d="M1010,620 L1040,640 L1000,900 M1060,610 L1100,640 L1060,960 M1080,580 L1250,600 M1100,640 L1390,720 M1130,700 L1080,1050 M1400,720 L1290,640"/>
<path d="M830,780 L840,830 L980,820 L990,740 M960,1020 L1000,1000 L1120,1110"/>
<ellipse cx="880" cy="850" rx="20" ry="32" transform="rotate(15 880 850)"/>
<ellipse cx="1030" cy="930" rx="25" ry="37" transform="rotate(15 1030 930)"/>
<path d="M1230,745 L1215,1040 M1320,770 L1305,960" style="stroke-width:3;stroke-dasharray:6 3"/>
<path d="M1255,860 L1250,900 Q1262,910 1272,895 Q1270,875 1255,880" style="stroke-width:2"/>
<circle cx="745" cy="990" r="32" style="stroke-width:2.4"/>
<circle cx="745" cy="995" r="16"/>
</g>
<!-- right half -->
<g class="p z" transform="translate(1140,940) scale(0.13271)" style="stroke-width:1.6">
<path fill="#fff" d="M300,440 L320,360 L400,250 L480,170 L490,120 L560,95 L620,110 L730,180 L800,170 L870,210 L900,250 L900,320 L960,330 L1000,380 L1030,450 L1030,620 L1020,700 L960,760 L930,780 L880,800 L820,830 L760,860 L700,840 L720,900 L700,990 L640,1060 L580,1050 L520,1000 L330,900 L280,850 L180,740 L200,680 L250,660 L300,600 L350,520 Z"/>
<path d="M400,250 L500,190 L500,120 M480,170 L560,95 M330,400 L480,210 M360,420 L490,280 M300,440 L440,470 L560,430 M320,360 L450,300"/>
<path d="M480,440 L600,420 M470,520 L640,480"/>
<ellipse cx="715" cy="320" rx="55" ry="82" transform="rotate(20 715 320)"/>
<ellipse cx="720" cy="320" rx="35" ry="58" transform="rotate(20 720 320)"/>
<path d="M620,110 Q580,200 640,380 L760,520 M730,180 Q680,250 700,250"/>
<ellipse cx="830" cy="375" rx="55" ry="68" transform="rotate(20 830 375)" style="stroke-width:6"/>
<ellipse cx="830" cy="375" rx="25" ry="38" transform="rotate(20 830 375)" style="stroke-width:3"/>
<path d="M800,170 L860,250 L900,320 M870,210 L880,270"/>
<path d="M950,410 L1300,600 M900,470 L1280,710 M1110,520 Q1095,570 1105,610 M1230,590 Q1215,640 1230,680" style="stroke-width:1.8"/>
<ellipse cx="1355" cy="700" rx="75" ry="92" transform="rotate(15 1355 700)" fill="#fff"/>
<ellipse cx="1380" cy="700" rx="55" ry="78" transform="rotate(15 1380 700)"/>
<ellipse cx="1395" cy="705" rx="30" ry="42" fill="#000"/>
<path d="M900,530 L980,560 L1030,620 M960,760 Q920,650 880,560 M930,780 Q870,700 860,560"/>
<ellipse cx="785" cy="615" rx="60" ry="75" transform="rotate(20 785 615)" fill="#fff"/>
<ellipse cx="790" cy="615" rx="38" ry="52" transform="rotate(20 790 615)"/>
<path d="M700,700 L1140,930 M690,760 L1100,1000" style="stroke-width:1.8"/>
<ellipse cx="1150" cy="960" rx="38" ry="55" transform="rotate(20 1150 960)" fill="#fff"/>
<ellipse cx="1155" cy="960" rx="20" ry="32" transform="rotate(20 1155 960)"/>
<path d="M1060,910 Q1040,960 1060,1000"/>
<path d="M200,680 L260,700 L300,840 L330,900 M250,660 L400,640 L560,700 L680,700 M260,700 L420,760 Q500,820 520,900 L520,1000"/>
<path d="M440,560 L480,600 M460,600 L500,650 M480,560 L600,640 M560,700 Q600,660 640,640" style="stroke-width:2.2"/>
<ellipse cx="630" cy="960" rx="88" ry="100" transform="rotate(10 630 960)" fill="#fff"/>
<ellipse cx="660" cy="960" rx="55" ry="80" transform="rotate(10 660 960)"/>
<ellipse cx="665" cy="965" rx="40" ry="60" transform="rotate(10 665 965)" fill="#000"/>
</g>
<!-- 30 bleed, 45 washers, 39 -->
<g class="p z" transform="translate(950,990) scale(0.0398)" style="stroke-width:1.9">
<path fill="#fff" d="M170,480 Q150,300 280,240 Q420,220 470,320 Q560,330 620,440 L780,740 Q760,860 640,890 Q520,870 450,770 Q330,760 250,690 Q180,620 170,480 Z"/>
<path d="M200,500 Q300,560 420,480 Q480,380 440,300 M280,650 Q400,700 520,640 M500,620 L620,500 M540,700 L690,560 M450,770 Q560,760 640,660"/>
<ellipse cx="280" cy="340" rx="70" ry="80"/>
</g>
<!-- washers 45 -->
<g class="p z" transform="translate(860,1000) scale(0.16589)" style="stroke-width:1.7">
<path d="M775,232 Q768,272 800,276 Q832,272 836,246"/>
<path d="M788,210 Q805,185 832,196 Q846,212 836,232 M800,222 Q812,208 826,214"/>
<path d="M835,282 Q828,322 860,326 Q892,322 896,296"/>
<path d="M848,260 Q865,235 892,246 Q906,262 896,282 M860,272 Q872,258 886,264"/>
</g>
<!-- guard 26 -->
<g class="p z" transform="translate(1040,1080) scale(0.13271)" style="stroke-width:2">
<path fill="#fff" d="M330,450 Q320,520 380,560 Q385,700 430,850 Q480,960 600,1040 Q720,1085 850,1085 Q1000,1070 1150,1030 L1240,1000 L1270,920 L1200,870 L920,680 L880,640 L840,470 L1080,340 L1120,320 L1100,230 L1040,200 L760,300 L480,330 Z" style="stroke-width:3"/>
<path d="M440,620 Q450,780 480,840 Q520,930 600,980 Q700,1030 800,1030 Q950,1020 1180,960 L1190,920 L900,720 L860,680 L810,460" style="stroke-width:2"/>
<path d="M490,470 L500,600 Q560,610 620,580 Q660,530 700,510 L850,440 M480,470 Q560,470 640,440 L790,380 L1100,250" style="stroke-width:2.2"/>
<path d="M610,370 L680,460 M720,330 L800,420 M760,310 L850,400 M860,440 L880,640"/>
<circle cx="400" cy="370" r="82" style="stroke-width:3"/>
<ellipse cx="390" cy="375" rx="40" ry="48"/>
<path d="M570,780 Q580,730 620,715 L780,670 Q825,675 815,720 Q800,760 760,770 L610,820 Q570,825 570,780 Z M610,800 L790,730"/>
<path d="M660,890 Q670,835 710,820 L840,790 Q870,800 860,840 Q845,880 810,885 L700,920 Q660,925 660,890 Z M700,900 L840,850"/>
<path d="M830,980 Q840,925 880,910 L960,880 Q990,895 980,930 Q965,965 930,970 L860,1000 Q830,1005 830,980 Z M860,960 L960,910 M880,930 L930,980"/>
<ellipse cx="150" cy="432" rx="55" ry="68" fill="#fff" style="stroke-width:2.4"/>
<path d="M190,380 L230,395 L235,455 L200,480"/>
<ellipse cx="135" cy="430" rx="12" ry="14" fill="#000"/>
<ellipse cx="1000" cy="530" rx="65" ry="32" style="stroke-width:2"/>
<path d="M975,440 Q1010,425 1045,440 L1045,520 Q1010,535 975,520 Z" fill="#fff" style="stroke-width:2"/>
<ellipse cx="1055" cy="230" rx="50" ry="45" style="stroke-width:4"/>
</g>

<ellipse cx="162.9" cy="1414.6" rx="13.5" ry="18.3" transform="rotate(25 162.9 1414.6)" style="fill:#fff;stroke:#000;stroke-width:1.5"/>
<path d="M168.8,1438.0 L185.0,1405.2 L171.0,1398.2 L154.8,1431.0 Z" style="fill:#fff;stroke:none"/>
<path d="M168.8,1438.0 L154.8,1431.0 M185.0,1405.2 L171.0,1398.2" style="fill:none;stroke:#000;stroke-width:1.5"/>
<ellipse cx="176.9" cy="1421.6" rx="13.5" ry="18.3" transform="rotate(25 176.9 1421.6)" style="fill:#fff;stroke:#000;stroke-width:1.5"/>
<ellipse cx="177.4" cy="1421.6" rx="9.7" ry="13.2" transform="rotate(25 177.4 1421.6)" style="fill:none;stroke:#000;stroke-width:1.5"/>
<ellipse cx="226.0" cy="1386.4" rx="13.5" ry="18.3" transform="rotate(25 226.0 1386.4)" style="fill:#fff;stroke:#000;stroke-width:1.5"/>
<path d="M231.9,1409.8 L248.1,1377.0 L234.1,1370.0 L217.9,1402.8 Z" style="fill:#fff;stroke:none"/>
<path d="M231.9,1409.8 L217.9,1402.8 M248.1,1377.0 L234.1,1370.0" style="fill:none;stroke:#000;stroke-width:1.5"/>
<ellipse cx="240.0" cy="1393.4" rx="13.5" ry="18.3" transform="rotate(25 240.0 1393.4)" style="fill:#fff;stroke:#000;stroke-width:1.5"/>
<ellipse cx="240.5" cy="1393.4" rx="9.7" ry="13.2" transform="rotate(25 240.5 1393.4)" style="fill:none;stroke:#000;stroke-width:1.5"/>
<ellipse cx="238.0" cy="1480.3" rx="13.5" ry="18.3" transform="rotate(25 238.0 1480.3)" style="fill:#fff;stroke:#000;stroke-width:1.5"/>
<path d="M243.9,1503.7 L260.1,1470.9 L246.1,1463.9 L229.9,1496.7 Z" style="fill:#fff;stroke:none"/>
<path d="M243.9,1503.7 L229.9,1496.7 M260.1,1470.9 L246.1,1463.9" style="fill:none;stroke:#000;stroke-width:1.5"/>
<ellipse cx="252.0" cy="1487.3" rx="13.5" ry="18.3" transform="rotate(25 252.0 1487.3)" style="fill:#fff;stroke:#000;stroke-width:1.5"/>
<ellipse cx="296.3" cy="1447.5" rx="13.5" ry="18.3" transform="rotate(25 296.3 1447.5)" style="fill:#fff;stroke:#000;stroke-width:1.5"/>
<path d="M302.2,1470.9 L318.4,1438.1 L304.4,1431.1 L288.2,1463.9 Z" style="fill:#fff;stroke:none"/>
<path d="M302.2,1470.9 L288.2,1463.9 M318.4,1438.1 L304.4,1431.1" style="fill:none;stroke:#000;stroke-width:1.5"/>
<ellipse cx="310.3" cy="1454.5" rx="13.5" ry="18.3" transform="rotate(25 310.3 1454.5)" style="fill:#fff;stroke:#000;stroke-width:1.5"/>
<ellipse cx="1202.5" cy="753.5" rx="14.0" ry="20.5" transform="rotate(25 1202.5 753.5)" style="fill:#fff;stroke:#000;stroke-width:1.5"/>
<path d="M1206.8,778.1 L1224.2,740.9 L1211.2,734.9 L1193.8,772.1 Z" style="fill:#fff;stroke:none"/>
<path d="M1206.8,778.1 L1193.8,772.1 M1224.2,740.9 L1211.2,734.9" style="fill:none;stroke:#000;stroke-width:1.5"/>
<ellipse cx="1215.5" cy="759.5" rx="14.0" ry="20.5" transform="rotate(25 1215.5 759.5)" style="fill:#fff;stroke:#000;stroke-width:1.5"/>
<ellipse cx="1216.0" cy="759.5" rx="10.1" ry="14.8" transform="rotate(25 1216.0 759.5)" style="fill:none;stroke:#000;stroke-width:1.5"/>
<ellipse cx="1289.0" cy="803.0" rx="13.7" ry="19.5" transform="rotate(25 1289.0 803.0)" style="fill:#fff;stroke:#000;stroke-width:1.5"/>
<path d="M1293.8,826.7 L1310.2,791.3 L1297.2,785.3 L1280.8,820.7 Z" style="fill:#fff;stroke:none"/>
<path d="M1293.8,826.7 L1280.8,820.7 M1310.2,791.3 L1297.2,785.3" style="fill:none;stroke:#000;stroke-width:1.5"/>
<ellipse cx="1302.0" cy="809.0" rx="13.7" ry="19.5" transform="rotate(25 1302.0 809.0)" style="fill:#fff;stroke:#000;stroke-width:1.5"/>
<polyline points="385.5,103 483,77" class="l"/><polyline points="385.5,103 460.6,104.5" class="l"/><polyline points="370,255 427.4,231" class="l"/><polyline points="560.5,279 609.5,287.6" class="l"/><polyline points="643.2,146.5 695.9,227.3" class="l"/><polyline points="802.6,87 712,105" class="l"/><polyline points="876.2,111.7 808.6,122.4" class="l"/><polyline points="989.7,133.6 914,177.4" class="l"/><polyline points="814.5,269 795.4,206.4" class="l"/>
<polyline points="448.6,133 427.4,133 427.4,297 451.3,297" class="l"/><polyline points="689,360 666.7,360 668.8,533 695,533" class="l"/><polyline points="657.7,439.5 666.7,439.5" class="l"/><polyline points="1269,494.4 1251.6,589.5" class="l"/><polyline points="998.4,713 1048,589.5 1462.2,589.5 1462.2,1150 1313.6,1150" class="l"/><polyline points="1062.6,714 1147.5,666 1410,818 1325.9,866" class="l"/><polyline points="1318.7,656.6 1259.2,728.8" class="l"/><polyline points="579,554 649,578" class="l"/><polyline points="796,593 728.5,585.5" class="l"/><polyline points="778.2,947.8 627.5,903.8" class="l"/><polyline points="565.8,705.7 631.5,751.5" class="l"/><polyline points="549.9,755.5 629.5,796.3" class="l"/><polyline points="578.8,815.2 611.6,830.2" class="l"/><polyline points="828.6,783.4 758.9,811.2" class="l"/><polyline points="899.3,878.2 815,858" class="l"/><polyline points="385.7,737.6 445.5,827.2" class="l"/><polyline points="391.7,924.8 425.5,962.6" class="l"/><polyline points="488.3,970.5 498.2,989.8" class="l"/><polyline points="516.8,951.3 550.6,965.9" class="l"/><polyline points="794,1028.7 733,1046.3" class="l"/><polyline points="112.3,852.2 180.5,951" class="l"/><polyline points="200.5,1097.9 275.7,1007.4" class="l"/><polyline points="201.7,1103.8 272.2,1112" class="l"/><polyline points="345,1029 371.1,1106" class="l"/><polyline points="418,1087 475.5,1172.5" class="l"/><polyline points="379.9,1205.3 401,1250.6" class="l"/><polyline points="495,1254 473.3,1275.4" class="l"/><polyline points="558.5,1302 532,1314" class="l"/><polyline points="667.5,1367 629,1382" class="l"/><polyline points="750,1420 561,1414.2" class="l"/><polyline points="683,1469 633.5,1468.4" class="l"/><polyline points="459.1,1458 474.2,1441.3" class="l"/><polyline points="588.9,1510.6 570.6,1488.3" class="l"/><polyline points="86.7,1540 169.4,1492.3" class="l"/><polyline points="550,1611 435.4,1573.6" class="l"/><polyline points="1360,887.4 1180,938" class="l"/><polyline points="1336,959.5 1268,982.8" class="l"/><polyline points="1373.2,1006 1329.3,1024.2" class="l"/><polyline points="1316,1099 1292.6,1072" class="l"/><polyline points="1261.5,1183 1183.3,1152.3" class="l"/><polyline points="1075,1234 1095.7,1195.5" class="l"/><polyline points="914.8,1048.1 957.9,1017.4" class="l"/><polyline points="964.5,1099.5 987.7,1044.8" class="l"/><polyline points="964.5,1099.5 999.3,1053" class="l"/><polyline points="1097,1022 1085.5,984" class="l"/>
<polyline points="712.9,154 715,535" class="d"/><polyline points="790,176 716,210.9" class="d"/><polyline points="796,124 796,204" class="d"/><polyline points="680,609.5 757,657.5 756,787" class="d"/><polyline points="675.3,781.4 782.8,841.1" class="d"/><polyline points="502.9,825.2 502.9,857" class="d"/><polyline points="504.8,825.9 561.9,863.7 560.6,895.6" class="d"/><polyline points="483.6,948.6 487.6,932.7 552.6,925.4" class="d"/><polyline points="285.6,1004 275.7,1197.8 395.9,1268.8" class="d"/><polyline points="368.2,1147 368.2,1163" class="d"/><polyline points="366.7,1206.8 412,1232.3 412,1250.6" class="d"/><polyline points="473.3,1218.5 473.3,1240.4 434.6,1261.5 433.9,1295.8" class="d"/><polyline points="460,1330 512,1355 514,1392 524,1397" class="d"/><polyline points="508,1316 535,1331" class="d"/><polyline points="460,1422 503.7,1447" class="d"/><polyline points="976,1013 1063.9,1094.6 1232,1005" class="d"/><polyline points="1070.5,1134.4 1114.3,1127.1 1205,1040" class="d"/><polyline points="1180.7,1103.9 1207.2,1078 1230,1060" class="d"/><polyline points="1061.2,886.8 1235,983" class="d"/><polyline points="1034.9,925.5 1212,1001" class="d"/><polyline points="1051.6,967.9 1185,1050" class="d"/>
<circle cx="364" cy="104" r="21" class="c"/>
<text transform="translate(356.15,113.8) scale(0.88,1)" class="t">2</text>
<text transform="translate(371.85,113.8) scale(0.88,1)" class="t">4</text>
<circle cx="350" cy="258" r="21" class="c"/>
<text transform="translate(342.15,267.8) scale(0.88,1)" class="t">2</text>
<text transform="translate(357.85,267.8) scale(0.88,1)" class="t">3</text>
<circle cx="540" cy="264" r="21" class="c"/>
<text transform="translate(532.15,273.8) scale(0.88,1)" class="t">2</text>
<text transform="translate(547.85,273.8) scale(0.88,1)" class="t">2</text>
<circle cx="639" cy="126" r="21" class="c"/>
<text transform="translate(631.15,135.8) scale(0.88,1)" class="t">2</text>
<path d="M645.63,135.80 L649.37,135.80 L649.37,114.47 L645.83,114.47 L641.13,117.94 L641.13,121.28 L645.63,118.09 Z" fill="#000"/>
<circle cx="824" cy="83" r="21" class="c"/>
<text transform="translate(816.15,92.8) scale(0.88,1)" class="t">4</text>
<path d="M830.63,92.80 L834.37,92.80 L834.37,71.47 L830.83,71.47 L826.13,74.94 L826.13,78.28 L830.63,75.09 Z" fill="#000"/>
<circle cx="897" cy="105" r="21" class="c"/>
<text transform="translate(889.15,114.8) scale(0.88,1)" class="t">3</text>
<text transform="translate(904.85,114.8) scale(0.88,1)" class="t">6</text>
<circle cx="1010" cy="125" r="21" class="c"/>
<text transform="translate(1002.15,134.8) scale(0.88,1)" class="t">2</text>
<text transform="translate(1017.85,134.8) scale(0.88,1)" class="t">5</text>
<circle cx="817" cy="289" r="21" class="c"/>
<text transform="translate(809.15,298.8) scale(0.88,1)" class="t">4</text>
<text transform="translate(824.85,298.8) scale(0.88,1)" class="t">2</text>
<circle cx="636" cy="440" r="21" class="c"/>
<text transform="translate(628.15,449.8) scale(0.88,1)" class="t">2</text>
<text transform="translate(643.85,449.8) scale(0.88,1)" class="t">0</text>
<circle cx="558" cy="550" r="21" class="c"/>
<path d="M548.93,559.80 L552.67,559.80 L552.67,538.47 L549.13,538.47 L544.43,541.94 L544.43,545.28 L548.93,542.09 Z" fill="#000"/>
<text transform="translate(565.85,559.8) scale(0.88,1)" class="t">8</text>
<circle cx="817" cy="594" r="21" class="c"/>
<path d="M807.93,603.80 L811.67,603.80 L811.67,582.47 L808.13,582.47 L803.43,585.94 L803.43,589.28 L807.93,586.09 Z" fill="#000"/>
<text transform="translate(824.85,603.8) scale(0.88,1)" class="t">9</text>
<circle cx="545" cy="699" r="21" class="c"/>
<path d="M535.93,708.80 L539.67,708.80 L539.67,687.47 L536.13,687.47 L531.43,690.94 L531.43,694.28 L535.93,691.09 Z" fill="#000"/>
<text transform="translate(552.85,708.8) scale(0.88,1)" class="t">5</text>
<circle cx="381" cy="718" r="21" class="c"/>
<path d="M371.93,727.80 L375.67,727.80 L375.67,706.47 L372.13,706.47 L367.43,709.94 L367.43,713.28 L371.93,710.09 Z" fill="#000"/>
<text transform="translate(388.85,727.8) scale(0.88,1)" class="t">7</text>
<circle cx="528" cy="751" r="21" class="c"/>
<path d="M518.93,760.80 L522.67,760.80 L522.67,739.47 L519.13,739.47 L514.43,742.94 L514.43,746.28 L518.93,743.09 Z" fill="#000"/>
<text transform="translate(535.85,760.8) scale(0.88,1)" class="t">6</text>
<circle cx="556" cy="811" r="21" class="c"/>
<text transform="translate(548.15,820.8) scale(0.88,1)" class="t">4</text>
<text transform="translate(563.85,820.8) scale(0.88,1)" class="t">3</text>
<circle cx="848" cy="781" r="21" class="c"/>
<path d="M838.93,790.80 L842.67,790.80 L842.67,769.47 L839.13,769.47 L834.43,772.94 L834.43,776.28 L838.93,773.09 Z" fill="#000"/>
<text transform="translate(855.85,790.8) scale(0.88,1)" class="t">3</text>
<circle cx="919" cy="885" r="21" class="c"/>
<path d="M909.93,894.80 L913.67,894.80 L913.67,873.47 L910.13,873.47 L905.43,876.94 L905.43,880.28 L909.93,877.09 Z" fill="#000"/>
<text transform="translate(926.85,894.8) scale(0.88,1)" class="t">2</text>
<circle cx="385" cy="901" r="21" class="c"/>
<text transform="translate(377.15,910.8) scale(0.88,1)" class="t">3</text>
<text transform="translate(392.85,910.8) scale(0.88,1)" class="t">4</text>
<circle cx="799" cy="949" r="21" class="c"/>
<path d="M789.93,958.80 L793.67,958.80 L793.67,937.47 L790.13,937.47 L785.43,940.94 L785.43,944.28 L789.93,941.09 Z" fill="#000"/>
<path d="M805.63,958.80 L809.37,958.80 L809.37,937.47 L805.83,937.47 L801.13,940.94 L801.13,944.28 L805.63,941.09 Z" fill="#000"/>
<circle cx="567" cy="979" r="21" class="c"/>
<text transform="translate(559.15,988.8) scale(0.88,1)" class="t">4</text>
<text transform="translate(574.85,988.8) scale(0.88,1)" class="t">4</text>
<circle cx="503" cy="1011" r="21" class="c"/>
<path d="M493.93,1020.80 L497.67,1020.80 L497.67,999.47 L494.13,999.47 L489.43,1002.94 L489.43,1006.28 L493.93,1003.09 Z" fill="#000"/>
<text transform="translate(510.85,1020.8) scale(0.88,1)" class="t">0</text>
<circle cx="815" cy="1028" r="21" class="c"/>
<path d="M805.93,1037.80 L809.67,1037.80 L809.67,1016.47 L806.13,1016.47 L801.43,1019.94 L801.43,1023.28 L805.93,1020.09 Z" fill="#000"/>
<text transform="translate(822.85,1037.8) scale(0.88,1)" class="t">4</text>
<circle cx="105" cy="831" r="21" class="c"/>
<text transform="translate(105.00,840.8) scale(0.88,1)" class="t">7</text>
<circle cx="180" cy="1104" r="21" class="c"/>
<text transform="translate(172.15,1113.8) scale(0.88,1)" class="t">3</text>
<text transform="translate(187.85,1113.8) scale(0.88,1)" class="t">6</text>
<circle cx="339" cy="1008" r="21" class="c"/>
<text transform="translate(339.00,1017.8) scale(0.88,1)" class="t">6</text>
<circle cx="409" cy="1066" r="21" class="c"/>
<text transform="translate(409.00,1075.8) scale(0.88,1)" class="t">5</text>
<circle cx="369" cy="1186" r="21" class="c"/>
<text transform="translate(361.15,1195.8) scale(0.88,1)" class="t">3</text>
<text transform="translate(376.85,1195.8) scale(0.88,1)" class="t">3</text>
<circle cx="508" cy="1238" r="21" class="c"/>
<path d="M506.78,1247.80 L510.52,1247.80 L510.52,1226.47 L506.98,1226.47 L502.28,1229.94 L502.28,1233.28 L506.78,1230.09 Z" fill="#000"/>
<circle cx="579" cy="1302" r="21" class="c"/>
<text transform="translate(571.15,1311.8) scale(0.88,1)" class="t">3</text>
<text transform="translate(586.85,1311.8) scale(0.88,1)" class="t">5</text>
<circle cx="689" cy="1367" r="21" class="c"/>
<text transform="translate(689.00,1376.8) scale(0.88,1)" class="t">3</text>
<circle cx="771" cy="1421" r="21" class="c"/>
<text transform="translate(771.00,1430.8) scale(0.88,1)" class="t">4</text>
<circle cx="704" cy="1469" r="21" class="c"/>
<text transform="translate(704.00,1478.8) scale(0.88,1)" class="t">2</text>
<circle cx="450" cy="1477" r="21" class="c"/>
<text transform="translate(442.15,1486.8) scale(0.88,1)" class="t">3</text>
<text transform="translate(457.85,1486.8) scale(0.88,1)" class="t">5</text>
<circle cx="602" cy="1528" r="21" class="c"/>
<text transform="translate(594.15,1537.8) scale(0.88,1)" class="t">3</text>
<text transform="translate(609.85,1537.8) scale(0.88,1)" class="t">7</text>
<circle cx="66" cy="1547" r="21" class="c"/>
<text transform="translate(66.00,1556.8) scale(0.88,1)" class="t">8</text>
<circle cx="571" cy="1614" r="21" class="c"/>
<text transform="translate(571.00,1623.8) scale(0.88,1)" class="t">9</text>
<circle cx="1273" cy="473" r="21" class="c"/>
<text transform="translate(1265.15,482.8) scale(0.88,1)" class="t">4</text>
<text transform="translate(1280.85,482.8) scale(0.88,1)" class="t">0</text>
<circle cx="1327" cy="637" r="21" class="c"/>
<text transform="translate(1319.15,646.8) scale(0.88,1)" class="t">2</text>
<text transform="translate(1334.85,646.8) scale(0.88,1)" class="t">9</text>
<circle cx="1381" cy="882" r="21" class="c"/>
<text transform="translate(1373.15,891.8) scale(0.88,1)" class="t">3</text>
<path d="M1387.63,891.80 L1391.37,891.80 L1391.37,870.47 L1387.83,870.47 L1383.13,873.94 L1383.13,877.28 L1387.63,874.09 Z" fill="#000"/>
<circle cx="1358" cy="955" r="21" class="c"/>
<text transform="translate(1350.15,964.8) scale(0.88,1)" class="t">3</text>
<text transform="translate(1365.85,964.8) scale(0.88,1)" class="t">8</text>
<circle cx="1394" cy="1001" r="21" class="c"/>
<text transform="translate(1386.15,1010.8) scale(0.88,1)" class="t">3</text>
<text transform="translate(1401.85,1010.8) scale(0.88,1)" class="t">2</text>
<circle cx="899" cy="1065" r="21" class="c"/>
<text transform="translate(891.15,1074.8) scale(0.88,1)" class="t">3</text>
<text transform="translate(906.85,1074.8) scale(0.88,1)" class="t">0</text>
<circle cx="1100" cy="1043" r="21" class="c"/>
<text transform="translate(1092.15,1052.8) scale(0.88,1)" class="t">3</text>
<text transform="translate(1107.85,1052.8) scale(0.88,1)" class="t">9</text>
<circle cx="1324" cy="1119" r="21" class="c"/>
<text transform="translate(1316.15,1128.8) scale(0.88,1)" class="t">2</text>
<text transform="translate(1331.85,1128.8) scale(0.88,1)" class="t">7</text>
<circle cx="948" cy="1116" r="21" class="c"/>
<text transform="translate(940.15,1125.8) scale(0.88,1)" class="t">4</text>
<text transform="translate(955.85,1125.8) scale(0.88,1)" class="t">5</text>
<circle cx="1282" cy="1188" r="21" class="c"/>
<text transform="translate(1274.15,1197.8) scale(0.88,1)" class="t">2</text>
<text transform="translate(1289.85,1197.8) scale(0.88,1)" class="t">8</text>
<circle cx="1067" cy="1254" r="21" class="c"/>
<text transform="translate(1059.15,1263.8) scale(0.88,1)" class="t">2</text>
<text transform="translate(1074.85,1263.8) scale(0.88,1)" class="t">6</text>
</svg>
</body></html>
